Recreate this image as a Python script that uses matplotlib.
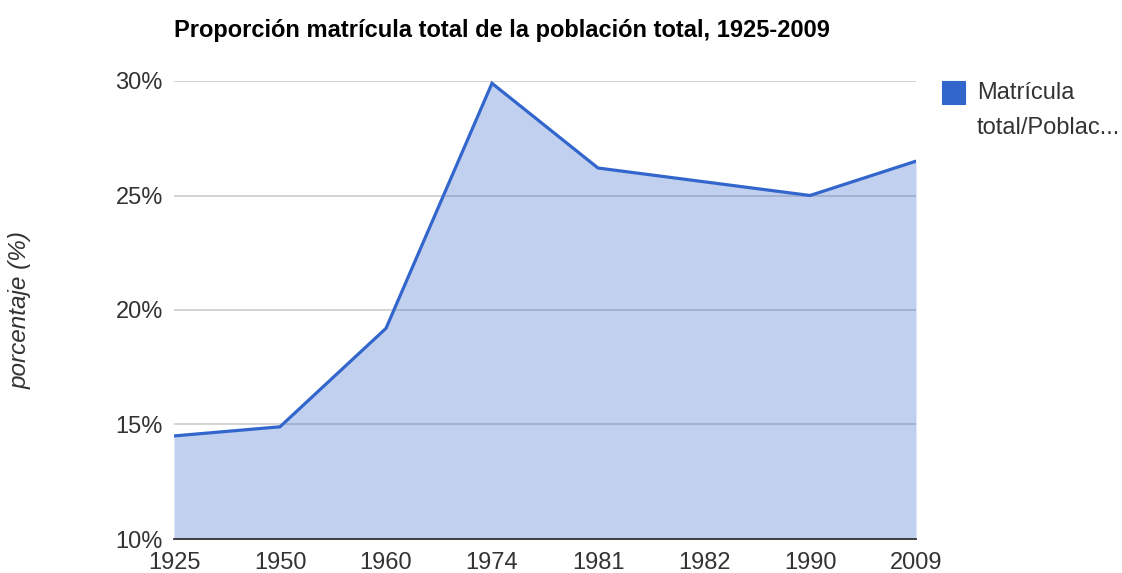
import matplotlib
matplotlib.use("Agg")
import matplotlib.pyplot as plt
from matplotlib.patches import Rectangle

plt.rcParams['font.family'] = ['Liberation Sans', 'DejaVu Sans']

years = ["1925", "1950", "1960", "1974", "1981", "1982", "1990", "2009"]
values = [14.5, 14.9, 19.2, 29.9, 26.2, 25.6, 25.0, 26.5]
y_ticks = [10, 15, 20, 25, 30]
y_tick_labels = ["10%", "15%", "20%", "25%", "30%"]
title = "Proporción matrícula total de la población total, 1925-2009"
y_label = "porcentaje (%)"
legend_lines = ["Matrícula", "total/Poblac..."]

line_color = "#3366cc"
text_color = "#333333"

fig = plt.figure(figsize=(11.22, 5.73), dpi=100)
ax = fig.add_axes([174/1122, 34/573, (916-174)/1122, (539-81)/573])

x = list(range(len(years)))
ax.fill_between(x, 10, values, color=line_color, alpha=0.30, linewidth=0, zorder=2)
ax.plot(x, values, color=line_color, linewidth=2.3, zorder=3, solid_joinstyle='miter')

ax.set_xlim(0, len(years) - 1)
ax.set_ylim(10, 30)
ax.set_xticks(x)
ax.set_xticklabels(years)
ax.set_yticks(y_ticks)
ax.set_yticklabels(y_tick_labels)
ax.tick_params(axis='both', length=0, labelsize=17, colors=text_color)
ax.tick_params(axis='x', pad=9.5)
ax.tick_params(axis='y', pad=8)

for t in y_ticks[1:]:
    ax.axhline(t, color="#cccccc", linewidth=1.2, zorder=1)

for s in ["top", "right", "left"]:
    ax.spines[s].set_visible(False)
ax.spines["bottom"].set_color("#333333")
ax.spines["bottom"].set_linewidth(1.3)
ax.spines["bottom"].set_zorder(4)

fig.text(20/1122, 1 - 310/573, y_label, fontsize=17.5, style='italic',
         color=text_color, rotation=90, ha='center', va='center')

fig.text(174/1122, 1 - 30/573, title, fontsize=17.0, fontweight='bold',
         ha='left', va='center', color="#000000")

# legend
fig.patches.append(Rectangle((942/1122, 1 - 104/573), 23/1122, 23/573,
                             transform=fig.transFigure, facecolor=line_color,
                             edgecolor=line_color, linewidth=0.8))
fig.text(977/1122, 1 - 93/573, legend_lines[0], fontsize=17, color=text_color,
         ha='left', va='center')
fig.text(977/1122, 1 - 128/573, legend_lines[1], fontsize=17, color=text_color,
         ha='left', va='center')

fig.savefig("out.png", dpi=100)
